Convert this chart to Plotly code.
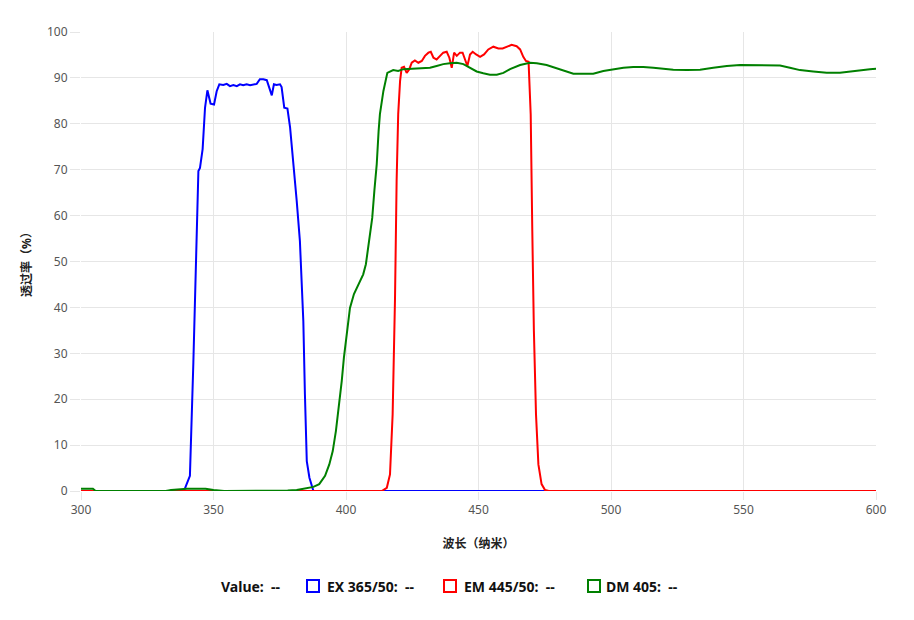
import plotly.graph_objects as go

# ---- data ----
ex_x = [300, 338, 339.2, 341.1, 342.4, 343.4, 344.3, 344.9, 345.9, 346.8, 347.7, 348.9, 350.2, 351.2, 352.2,
        353.7, 355.0, 356.2, 357.5, 358.8, 360.0, 361.2, 362.5, 363.8, 365.0, 366.3, 367.5, 368.8, 370.1,
        371.1, 372.0, 372.8, 373.8, 375.1, 375.7, 376.7, 377.9, 378.9, 380.1, 381.4, 382.6, 383.9, 384.5,
        385.2, 386.2, 387.1, 387.7, 600]
ex_y = [0, 0, 0.5, 3.3, 28, 50, 69.7, 70.4, 74.5, 83.5, 87.3, 84.4, 84.2, 87.1, 88.6,
        88.45, 88.7, 88.2, 88.45, 88.2, 88.6, 88.4, 88.6, 88.4, 88.6, 88.7, 89.7, 89.7, 89.5,
        87.9, 86.2, 88.6, 88.45, 88.6, 88.0, 83.5, 83.3, 79.2, 71.9, 63.2, 54.5, 37.0, 21.1,
        6.5, 2.9, 1.1, 0, 0]

em_x = [300, 413.5, 415.4, 416.6, 417.6, 418.5, 419.1, 419.7, 420.4, 421.0, 421.9, 422.9, 423.9, 424.8,
        426.0, 427.3, 428.6, 429.8, 431.1, 432.0, 433.0, 434.2, 435.5, 436.7, 438.0, 439.0, 439.9,
        440.8, 441.8, 443.0, 444.0, 444.9, 445.8, 446.8, 447.8, 449.1, 450.6, 452.1, 453.7, 455.6,
        457.5, 459.1, 460.6, 462.5, 464.4, 465.7, 466.9, 467.9, 468.9, 469.7, 470.3, 470.9, 471.7,
        472.6, 473.8, 475.1, 476.5, 600]
em_y = [0, 0, 0.7, 3.6, 16.7, 42.1, 67.5, 82.1, 89.3, 92.2, 92.4, 91.1, 91.9, 93.3,
        93.8, 93.3, 93.7, 94.8, 95.5, 95.7, 94.4, 94.0, 94.8, 95.5, 95.7, 94.4, 92.2,
        95.5, 94.8, 95.5, 95.5, 94.0, 92.6, 95.1, 95.7, 95.1, 94.6, 95.1, 96.2, 96.8,
        96.4, 96.4, 96.7, 97.2, 96.9, 96.2, 94.6, 93.7, 93.5, 82.1, 56.6, 34.9, 16.7,
        5.8, 1.5, 0.2, 0, 0]

dm_x = [300, 304.5, 305.5, 332, 334, 338, 340, 347, 350, 354, 372, 378, 381.4, 385.2, 387.7, 389.9,
        392.1, 393.7, 395.0, 396.2, 397.5, 398.4, 399.2, 400.3, 401.5, 403.0, 404.6, 406.5,
        407.5, 408.8, 409.9, 410.7, 411.6, 412.3, 412.8, 414.1, 415.6, 417.8, 419.7, 421.6,
        425.4, 429.2, 431.7, 434.2, 436.7, 439.2, 441.8, 444.3, 446.8, 449.3, 451.8, 454.3,
        456.9, 459.4, 461.9, 465.7, 469.4, 472.0, 475.7, 479.5, 482.6, 485.8, 489.5, 493.3,
        497.1, 500.9, 504.7, 508.4, 512.2, 516.0, 519.7, 523.5, 528.6, 533.6, 538.6, 543.7,
        548.7, 553.7, 558.7, 563.8, 567.5, 571.3, 576.3, 581.4, 586.4, 590.2, 594.0, 597.7, 600]
dm_y = [0.5, 0.5, 0, 0, 0.2, 0.4, 0.5, 0.5, 0.2, 0, 0, 0.1, 0.2, 0.6, 0.9, 1.5,
        3.3, 5.8, 8.7, 13.1, 18.9, 24.0, 29.0, 34.9, 39.9, 42.9, 45.0, 47.2,
        49.4, 54.5, 59.5, 65.4, 71.2, 78.4, 82.1, 87.1, 91.1, 91.7, 91.5, 91.9,
        92.0, 92.0, 92.2, 92.6, 93.0, 93.2, 93.3, 93.0, 92.2, 91.4, 91.0, 90.7,
        90.7, 91.1, 91.9, 92.8, 93.3, 93.2, 92.8, 92.1, 91.4, 90.9, 90.9, 90.9,
        91.5, 91.9, 92.2, 92.4, 92.4, 92.2, 92.0, 91.8, 91.7, 91.8, 92.2, 92.6,
        92.8, 92.8, 92.7, 92.7, 92.2, 91.7, 91.4, 91.1, 91.1, 91.4, 91.7, 91.9, 92.0]

series_names = ["EX 365/50", "EM 445/50", "DM 405"]
series_colors = ["#0000ff", "#ff0000", "#008000"]
x_ticks = [300, 350, 400, 450, 500, 550, 600]
y_ticks = [0, 10, 20, 30, 40, 50, 60, 70, 80, 90, 100]

FONT = "Segoe UI, Noto Sans, Noto Sans CJK SC, sans-serif"

# page offset of the figure div (body margin)
OX, OY = 8, 7
L, R, T, B = 81 - OX, 876 - OX, 31 - OY, 490 - OY   # plot area in figure pixels
W, H = 914, 620
PW, PH = R - L, B - T

def px(xp):
    return (xp - OX - L) / PW

def py(yp):
    return (B - (yp - OY)) / PH

fig = go.Figure()
for xs, ys, name, col in zip([ex_x, em_x, dm_x], [ex_y, em_y, dm_y], series_names, series_colors):
    fig.add_trace(go.Scatter(x=xs, y=ys, mode="lines", name=name,
                             line=dict(color=col, width=2), showlegend=False))

fig.update_layout(
    width=W, height=H,
    margin=dict(l=L, r=W - R, t=T, b=H - B),
    paper_bgcolor="white", plot_bgcolor="white",
    font=dict(family=FONT, size=12, color="#333"),
    xaxis=dict(range=[300, 600], tickvals=x_ticks, showgrid=True, gridcolor="#e6e6e6",
               gridwidth=1, zeroline=False, showline=False, ticks="outside", ticklen=8,
               tickcolor="#e6e6e6", tickfont=dict(color="#555", size=12),
               title=dict(text="<b>波长（纳米）</b>", font=dict(size=12, color="#222"), standoff=22)),
    yaxis=dict(range=[0, 100], tickvals=y_ticks, showgrid=True, gridcolor="#e6e6e6",
               gridwidth=1, zeroline=False, showline=False, ticks="outside", ticklen=10,
               tickcolor="#e6e6e6", tickfont=dict(color="#555", size=12),
               title=dict(text="<b>透过率（%）</b>", font=dict(size=12, color="#222"), standoff=12)),
)

# custom legend row
legend_items = [("Value:  --", 219, None)] + [
    (f"{n}:  --", tx, (bx, c)) for n, c, tx, bx in
    zip(series_names, series_colors, [325, 462, 604], [307, 444, 588])]
for text, tx, box in legend_items:
    fig.add_annotation(x=px(tx), y=py(585), xref="paper", yref="paper", text=f"<b>{text}</b>",
                       showarrow=False, xanchor="left", yanchor="middle",
                       font=dict(size=14, color="#111", family=FONT))
    if box:
        bx, c = box
        fig.add_shape(type="rect", xref="paper", yref="paper",
                      x0=px(bx), x1=px(bx + 12), y0=py(579), y1=py(591),
                      line=dict(color=c, width=2), fillcolor="rgba(0,0,0,0)")

fig.write_html("out.html")
